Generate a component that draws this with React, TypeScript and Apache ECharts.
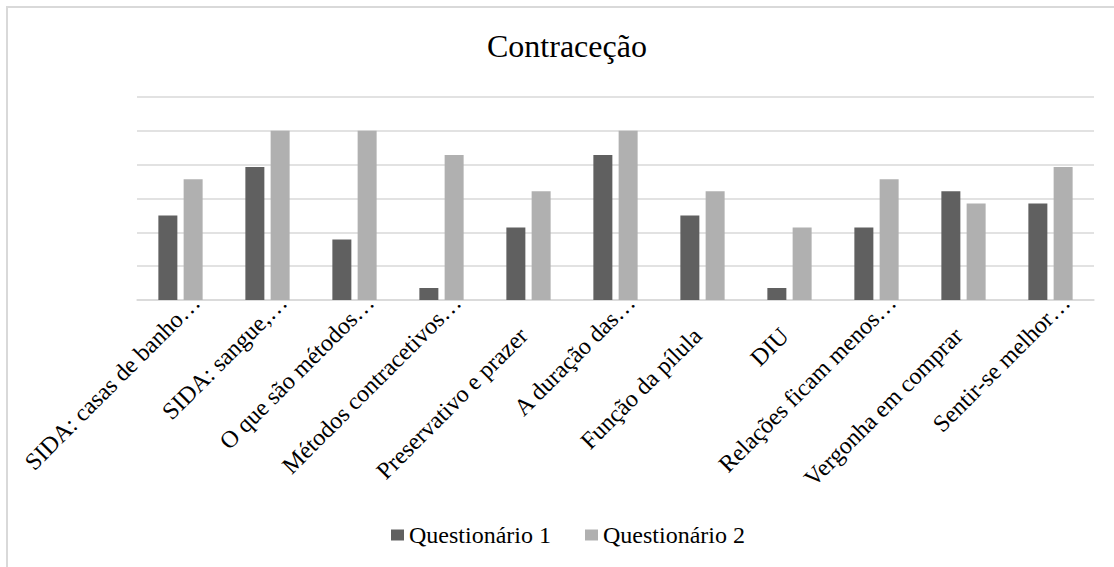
import React, { useEffect, useRef } from "react";
import * as echarts from "echarts";

const title = "Contraceção";
const categories = [
  "SIDA: casas de banho…",
  "SIDA: sangue,…",
  "O que são métodos…",
  "Métodos contracetivos…",
  "Preservativo e prazer",
  "A duração das…",
  "Função da pílula",
  "DIU",
  "Relações ficam menos…",
  "Vergonha em comprar",
  "Sentir-se melhor…",
];
const seriesNames = ["Questionário 1", "Questionário 2"];
const q1 = [50, 78.6, 35.7, 7.1, 42.9, 85.7, 50, 7.1, 42.9, 64.3, 57.1];
const q2 = [71.4, 100, 100, 85.7, 64.3, 100, 64.3, 42.9, 71.4, 57.1, 78.6];
const yMin = 0;
const yMax = 120;
const yStep = 20;

const FONT = "Liberation Serif";

export default function App() {
  const ref = useRef<HTMLDivElement>(null);
  useEffect(() => {
    if (!ref.current) return;
    const chart = echarts.init(ref.current, undefined, { renderer: "svg" });
    chart.setOption({
      animation: false,
      backgroundColor: "#ffffff",
      textStyle: { fontFamily: FONT },
      title: {
        text: title,
        left: 482,
        top: 25,
        textStyle: { fontFamily: FONT, fontSize: 32, fontWeight: "normal", color: "#000000" },
      },
      graphic: [
        {
          type: "rect",
          shape: { x: 7, y: 7, width: 1300, height: 700 },
          style: { fill: "none", stroke: "#d9d9d9", lineWidth: 2 },
          silent: true,
        },
      ],
      legend: {
        left: 386,
        top: 518,
        itemWidth: 13,
        itemHeight: 11,
        itemGap: 34,
        icon: "rect",
        textStyle: { fontFamily: FONT, fontSize: 24, color: "#000000" },
        data: seriesNames,
      },
      grid: { left: 137, right: 20, top: 97, bottom: 267, containLabel: false },
      xAxis: {
        type: "category",
        data: categories,
        axisLine: { lineStyle: { color: "#d9d9d9", width: 1.5 } },
        axisTick: { show: false },
        axisLabel: {
          interval: 0,
          rotate: 45,
          margin: -17,
          fontFamily: FONT,
          fontSize: 24,
          color: "#000000",
          formatter: (v: string) => (v.endsWith("…") ? `{t|${v}}` : `{f|${v}}`),
          rich: {
            t: { fontFamily: FONT, fontSize: 24, color: "#000000", padding: [44, 0, 0, 0] },
            f: { fontFamily: FONT, fontSize: 24, color: "#000000", padding: [62, 38, 0, 0] },
          },
        },
      },
      yAxis: {
        type: "value",
        min: yMin,
        max: yMax,
        interval: yStep,
        axisLabel: { show: false },
        axisLine: { show: false },
        axisTick: { show: false },
        splitLine: { lineStyle: { color: "#d9d9d9", width: 1.5 } },
      },
      series: [
        {
          name: seriesNames[0],
          type: "bar",
          data: q1,
          barWidth: 19,
          barGap: "33%",
          itemStyle: { color: "#606060" },
        },
        {
          name: seriesNames[1],
          type: "bar",
          data: q2,
          barWidth: 19,
          itemStyle: { color: "#b0b0b0" },
        },
      ],
    });
    return () => chart.dispose();
  }, []);
  return (
    <div
      ref={ref}
      style={{ position: "fixed", left: 0, top: 0, width: 1114, height: 567 }}
    />
  );
}
